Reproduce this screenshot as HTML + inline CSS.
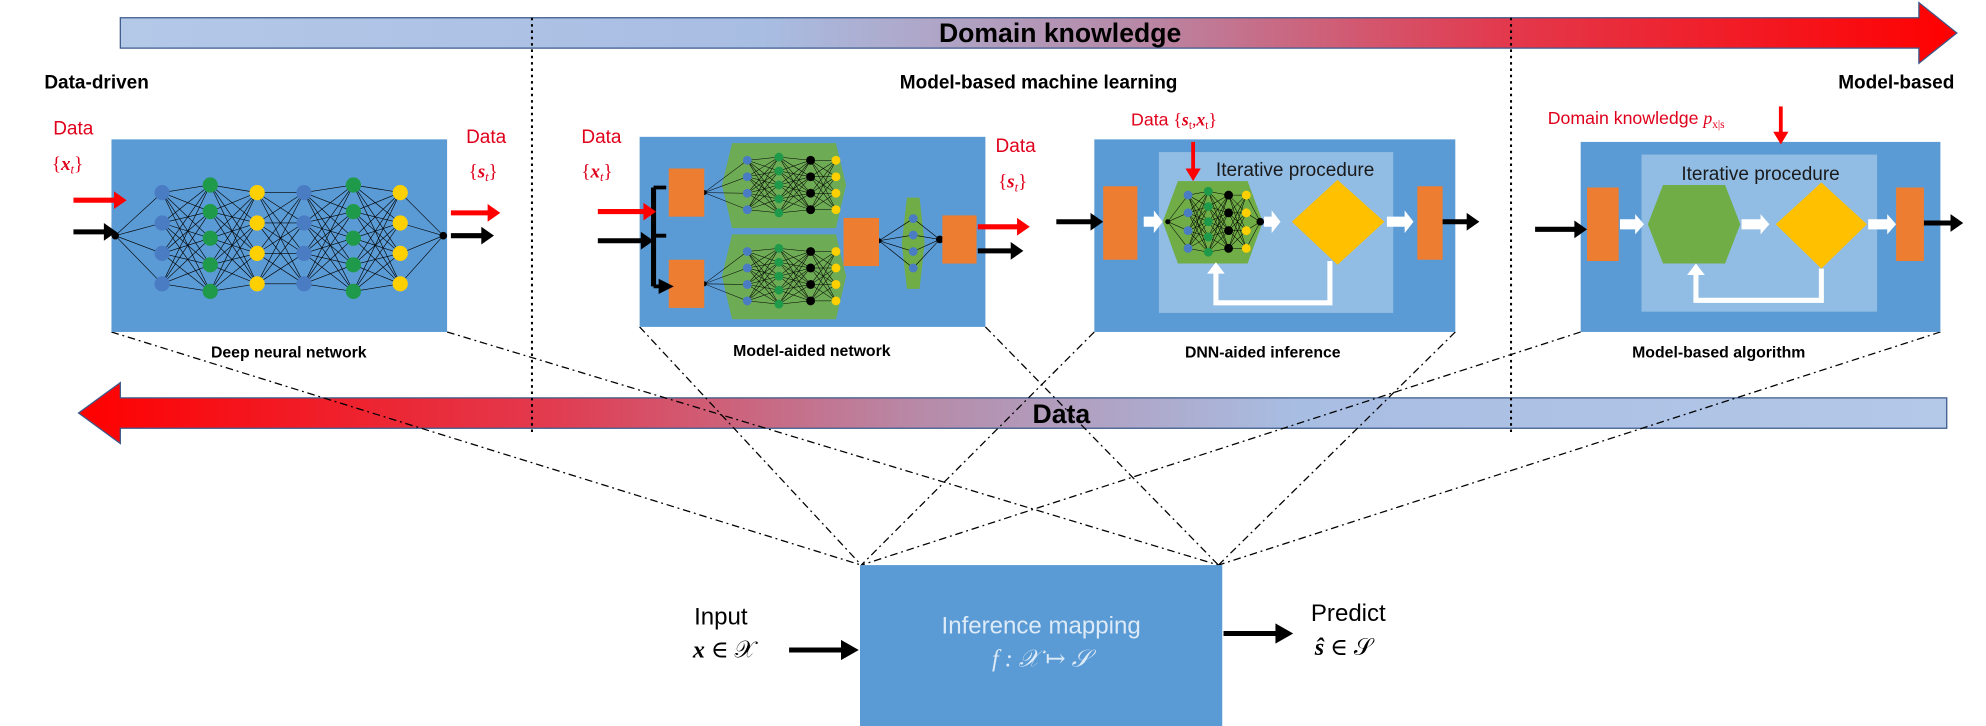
<!DOCTYPE html>
<html><head><meta charset="utf-8"><style>
html,body{margin:0;padding:0;background:#fff;width:1986px;height:726px;overflow:hidden}
svg{display:block}
text{font-family:"Liberation Sans Narrow","Liberation Sans",sans-serif}
.b{font-weight:bold}
.m{font-family:"Liberation Serif","DejaVu Serif",serif}
</style></head><body>
<svg id="s" width="1986" height="726" viewBox="0 0 1568 573" preserveAspectRatio="none" xmlns="http://www.w3.org/2000/svg">
<defs>
<linearGradient id="gTop" x1="0" x2="1" y1="0" y2="0">
<stop offset="0" stop-color="#b4c8e8"/><stop offset="0.35" stop-color="#a8bde2"/><stop offset="0.55" stop-color="#b78aa8"/><stop offset="0.75" stop-color="#e23a4e"/><stop offset="1" stop-color="#ff0000"/></linearGradient>
<linearGradient id="gBot" x1="0" x2="1" y1="0" y2="0">
<stop offset="0" stop-color="#ff0000"/><stop offset="0.25" stop-color="#e23a4e"/><stop offset="0.45" stop-color="#b78aa8"/><stop offset="0.65" stop-color="#a8bde2"/><stop offset="1" stop-color="#b4c8e8"/></linearGradient>
<marker id="ak" markerWidth="4" markerHeight="4" refX="2" refY="2" orient="auto"><path d="M0,0L4,2L0,4z" fill="#000"/></marker>
</defs>

<path d="M95,14H1515V2L1545,26L1515,50V38H95Z" fill="url(#gTop)" stroke="#3a5a8a" stroke-width="1"/>
<text x="837" y="33" text-anchor="middle" class="b" font-size="21">Domain knowledge</text>

<path d="M1537,314H95V302L62,326L95,350V338H1537Z" fill="url(#gBot)" stroke="#3a5a8a" stroke-width="1"/>
<text x="838" y="334" text-anchor="middle" class="b" font-size="21">Data</text>

<line x1="420" y1="14" x2="420" y2="342" stroke="#000" stroke-width="1.6" stroke-dasharray="2,3"/>
<line x1="1193" y1="14" x2="1193" y2="342" stroke="#000" stroke-width="1.6" stroke-dasharray="2,3"/>

<text x="35" y="70" class="b" font-size="15">Data-driven</text>
<text x="820" y="70" text-anchor="middle" class="b" font-size="15">Model-based machine learning</text>
<text x="1543" y="70" text-anchor="end" class="b" font-size="15">Model-based</text>

<g stroke="#000" stroke-width="1" stroke-dasharray="6,3,1.5,3" fill="none">
<line x1="88" y1="262" x2="680" y2="446"/>
<line x1="353" y1="262" x2="962" y2="446"/>
<line x1="505" y1="258" x2="680" y2="446"/>
<line x1="778" y1="258" x2="962" y2="446"/>
<line x1="864" y1="262" x2="680" y2="446"/>
<line x1="1149" y1="262" x2="962" y2="446"/>
<line x1="1248" y1="262" x2="680" y2="446"/>
<line x1="1532" y1="262" x2="962" y2="446"/>
</g>

<rect x="88" y="110" width="265" height="152" fill="#5b9bd5"/>
<rect x="505" y="108" width="273" height="150" fill="#5b9bd5"/>
<rect x="864" y="110" width="285" height="152" fill="#5b9bd5"/>
<rect x="1248" y="112" width="284" height="150" fill="#5b9bd5"/>

<g id="nets"></g>

<polygon points="578,113 660,113 668,146 660,180 578,180 570,146" fill="#70ad47" opacity="0.9"/>
<polygon points="578,185 660,185 668,218 660,252 578,252 570,218" fill="#70ad47" opacity="0.9"/>
<polygon points="716,156 726,156 730,192 726,228 716,228 712,192" fill="#70ad47"/>
<g id="nets2"></g>
<rect x="528" y="133" width="28" height="38" fill="#ed7d31"/>
<rect x="528" y="205" width="28" height="38" fill="#ed7d31"/>
<rect x="666" y="172" width="28" height="38" fill="#ed7d31"/>
<rect x="744" y="170" width="27" height="38" fill="#ed7d31"/>
<path d="M516,148V226" stroke="#000" stroke-width="4"/>
<path d="M516,148H526M516,186H526M516,226H526" stroke="#000" stroke-width="3" marker-end="url(#ak)"/>

<!-- box3 -->
<rect x="915" y="120" width="185" height="127" fill="#bdd7ee" opacity="0.55"/>
<text x="960" y="139" font-size="15" fill="#1a1a1a">Iterative procedure</text>
<rect x="871" y="147" width="27" height="58" fill="#ed7d31"/>
<polygon points="930,143 985,143 997,175 985,208 930,208 918,175" fill="#70ad47"/>
<g id="nets3"></g>
<polygon points="1056,142 1093,175 1056,209 1020,175" fill="#ffc000"/>
<rect x="1119" y="147" width="20" height="58" fill="#ed7d31"/>
<g fill="#fff">
<path d="M903,171h8v-5l7,9l-7,9v-5h-8z"/>
<path d="M998,171h6v-5l7,9l-7,9v-5h-6z"/>
<path d="M1095,171h14v-5l7,9l-7,9v-5h-14z"/>
</g>
<path d="M1050,206V239H960V214" stroke="#fff" stroke-width="4" fill="none"/>
<path d="M953,216l7,-9l7,9z" fill="#fff"/>

<!-- box4 -->
<rect x="1296" y="122" width="186" height="124" fill="#bdd7ee" opacity="0.55"/>
<text x="1390" y="142" text-anchor="middle" font-size="15" fill="#1a1a1a">Iterative procedure</text>
<rect x="1253" y="148" width="25" height="58" fill="#ed7d31"/>
<polygon points="1313,146 1362,146 1374,177 1362,208 1313,208 1301,177" fill="#70ad47"/>
<polygon points="1438,144 1474,177 1438,212 1402,177" fill="#ffc000"/>
<rect x="1497" y="148" width="22" height="58" fill="#ed7d31"/>
<g fill="#fff">
<path d="M1279,173h12v-4l7,8l-7,8v-4h-12z"/>
<path d="M1375,173h15v-4l7,8l-7,8v-4h-15z"/>
<path d="M1475,173h15v-4l7,8l-7,8v-4h-15z"/>
</g>
<path d="M1438,212V237H1339V215" stroke="#fff" stroke-width="4" fill="none"/>
<path d="M1332,217l7,-9l7,9z" fill="#fff"/>

<g id="arrows"></g>

<g fill="#e0001b" font-size="15">
<text x="42" y="106">Data</text>
<text x="41" y="134" class="m">{<tspan font-style="italic" font-weight="bold">x</tspan><tspan font-size="10" font-style="italic" dy="3">t</tspan><tspan dy="-3">}</tspan></text>
<text x="368" y="113">Data</text>
<text x="370" y="140" class="m">{<tspan font-style="italic" font-weight="bold">s</tspan><tspan font-size="10" font-style="italic" dy="3">t</tspan><tspan dy="-3">}</tspan></text>
<text x="459" y="113">Data</text>
<text x="459" y="140" class="m">{<tspan font-style="italic" font-weight="bold">x</tspan><tspan font-size="10" font-style="italic" dy="3">t</tspan><tspan dy="-3">}</tspan></text>
<text x="786" y="120">Data</text>
<text x="788" y="148" class="m">{<tspan font-style="italic" font-weight="bold">s</tspan><tspan font-size="10" font-style="italic" dy="3">t</tspan><tspan dy="-3">}</tspan></text>
<text x="893" y="99" font-size="14">Data <tspan class="m">{<tspan font-style="italic" font-weight="bold">s</tspan><tspan font-size="9" dy="3">t</tspan><tspan dy="-3">,</tspan><tspan font-style="italic" font-weight="bold">x</tspan><tspan font-size="9" dy="3">t</tspan><tspan dy="-3">}</tspan></tspan></text>
<text x="1222" y="98" font-size="14">Domain knowledge <tspan class="m" font-style="italic">p</tspan><tspan class="m" font-size="9" dy="3">x|s</tspan></text>
</g>

<g class="b" font-size="12.5" text-anchor="middle">
<text x="228" y="282">Deep neural network</text>
<text x="641" y="281">Model-aided network</text>
<text x="997" y="282">DNN-aided inference</text>
<text x="1357" y="282">Model-based algorithm</text>
</g>

<rect x="679" y="446" width="286" height="127" fill="#5b9bd5"/>
<text x="822" y="500" text-anchor="middle" font-size="19" fill="#ddeaf7">Inference mapping</text>
<text x="822" y="526" text-anchor="middle" font-size="19" fill="#ddeaf7" class="m" font-style="italic">f : 𝒳 ↦ 𝒮</text>
<text x="548" y="493" font-size="19">Input</text>
<text x="547" y="519" font-size="19" class="m"><tspan font-weight="bold" font-style="italic">x</tspan> ∈ 𝒳</text>
<text x="1035" y="490" font-size="19">Predict</text>
<text x="1038" y="517" font-size="19" class="m"><tspan font-weight="bold" font-style="italic">ŝ</tspan> ∈ 𝒮</text>
<path d="M623,513H666" stroke="#000" stroke-width="4"/><path d="M664,505L678,513L664,521z"/>
<path d="M966,500H1009" stroke="#000" stroke-width="4"/><path d="M1007,492L1021,500L1007,508z"/>
</svg>
<script>
var NS="http://www.w3.org/2000/svg";
function el(p,t,a){var e=document.createElementNS(NS,t);for(var k in a)e.setAttribute(k,a[k]);p.appendChild(e);return e;}
function ys(n,c,sp){var r=[];for(var i=0;i<n;i++)r.push(c+(i-(n-1)/2)*sp);return r;}
function net(g,layers,lw){
 for(var l=0;l<layers.length-1;l++){var A=layers[l],B=layers[l+1];
  A.y.forEach(function(a){B.y.forEach(function(b){el(g,"line",{x1:A.x,y1:a,x2:B.x,y2:b,stroke:"#000","stroke-width":lw});});});}
 layers.forEach(function(L){L.y.forEach(function(y){el(g,"circle",{cx:L.x,cy:y,r:L.r,fill:L.c});});});
}
var B="#4a7cc4",G="#1f9a4a",Y="#ffd000",K="#000";
net(document.getElementById("nets"),[
 {x:91,y:[186],r:3,c:K},{x:128,y:ys(4,188,24),r:6,c:B},{x:166,y:ys(5,188,21),r:6,c:G},{x:203,y:ys(4,188,24),r:6,c:Y},
 {x:240,y:ys(4,188,24),r:6,c:B},{x:279,y:ys(5,188,21),r:6,c:G},{x:316,y:ys(4,188,24),r:6,c:Y},{x:350,y:[186],r:3,c:K}],0.5);
var n2=document.getElementById("nets2");
net(n2,[{x:556,y:[152],r:2,c:K},{x:590,y:ys(4,146,13),r:3.5,c:B},{x:615,y:ys(5,146,11),r:3.5,c:G},{x:640,y:ys(4,146,13),r:3.5,c:K},{x:660,y:ys(4,146,13),r:3.5,c:Y}],0.4);
net(n2,[{x:556,y:[224],r:2,c:K},{x:590,y:ys(4,218,13),r:3.5,c:B},{x:615,y:ys(5,218,11),r:3.5,c:G},{x:640,y:ys(4,218,13),r:3.5,c:K},{x:660,y:ys(4,218,13),r:3.5,c:Y}],0.4);
net(n2,[{x:694,y:[190],r:2,c:K},{x:721,y:ys(4,192,13),r:3.5,c:B},{x:742,y:[189],r:3,c:K}],0.5);
net(document.getElementById("nets3"),[{x:922,y:[175],r:2,c:K},{x:938,y:ys(4,175,14),r:3.5,c:B},{x:954,y:ys(5,175,12),r:3.5,c:G},{x:970,y:ys(4,175,14),r:3.5,c:K},{x:984,y:ys(4,175,14),r:3.5,c:Y},{x:995,y:[175],r:3,c:K}],0.4);
var ar=document.getElementById("arrows");
function arrow(x1,y,x2,col,w){el(ar,"path",{d:"M"+x1+","+y+"H"+(x2-8),stroke:col,"stroke-width":w||4});el(ar,"path",{d:"M"+(x2-10)+","+(y-7)+"L"+x2+","+y+"L"+(x2-10)+","+(y+7)+"z",fill:col});}
function darrow(x,y1,y2,col){el(ar,"path",{d:"M"+x+","+y1+"V"+(y2-8),stroke:col,"stroke-width":3});el(ar,"path",{d:"M"+(x-6)+","+(y2-10)+"L"+x+","+y2+"L"+(x+6)+","+(y2-10)+"z",fill:col});}
arrow(58,158,100,"#ff0000");arrow(58,183,92,"#000");
arrow(356,168,395,"#ff0000");arrow(356,186,390,"#000");
arrow(472,167,518,"#ff0000");arrow(472,190,516,"#000");
arrow(772,179,813,"#ff0000");arrow(772,198,808,"#000");
arrow(834,175,871,"#000");arrow(1139,175,1168,"#000");
arrow(1212,181,1253,"#000");arrow(1519,176,1550,"#000");
darrow(942,112,143,"#ff0000");darrow(1406,84,114,"#ff0000");
</script>
</body></html>
